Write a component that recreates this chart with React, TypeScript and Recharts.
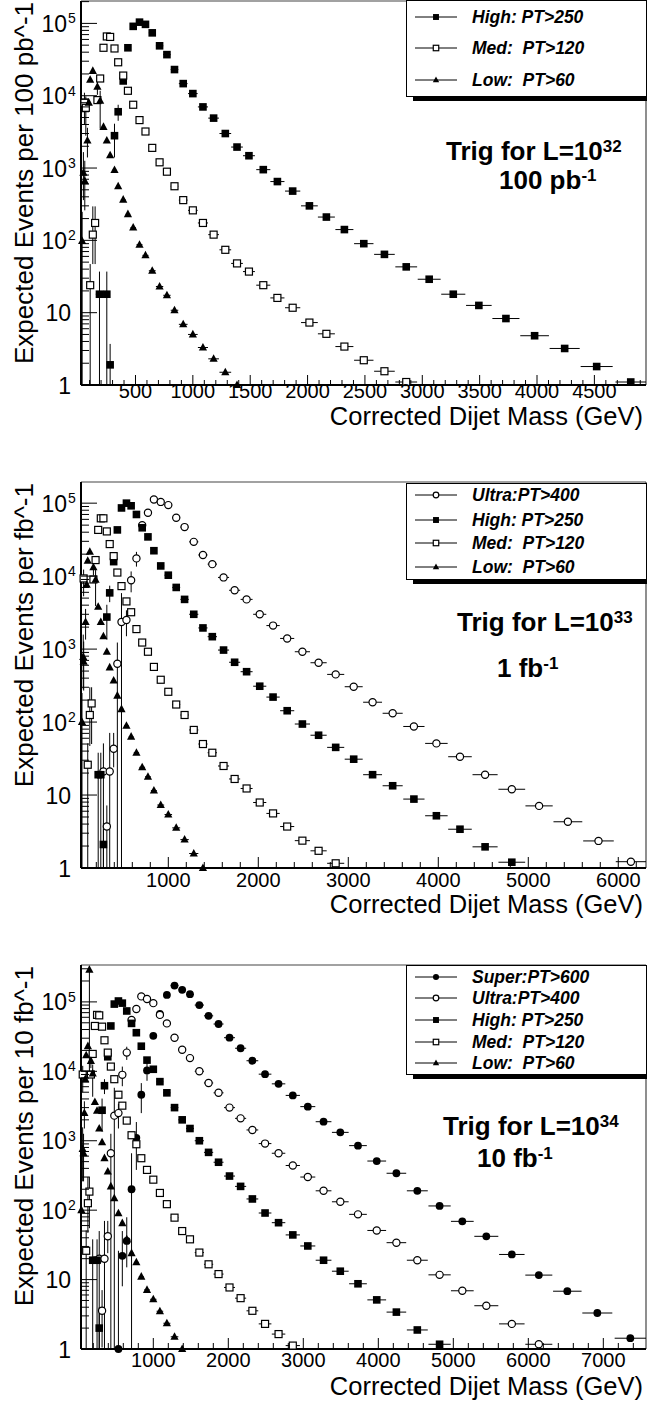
import React from 'react';
import { ScatterChart, Scatter, XAxis, YAxis, ErrorBar, ReferenceLine, Legend } from 'recharts';

const FONT = '"Liberation Sans", Arial, Helvetica, sans-serif';
const W = 647;

// ---------------- Panel 1 : 100 pb^-1 ----------------
const P1_HIGH_M = [186, 250, 279, 317, 349, 393, 434, 480, 535, 587, 646, 710, 774, 840, 916, 1000, 1088, 1181, 1283, 1385, 1489, 1614, 1737, 1870, 2016, 2164, 2321, 2490, 2670, 2860, 3060, 3270, 3493, 3729, 3979, 4241, 4520, 4817];
const P1_HIGH_N = [18, 18, 1.9, 2800, 6000, 16000, 46000, 91000, 104000, 97000, 74000, 49000, 37000, 23000, 14700, 10700, 7000, 4900, 3000, 1950, 1480, 950, 650, 480, 300, 210, 141, 90, 64, 43, 29, 18, 12.6, 8.3, 4.8, 3.2, 1.8, 1.1];
const P1_HIGH_ERR = [[186, 17, 19], [250, 17, 19], [279, 0.9, 1.8], [317, 1400, 1300], [349, 1500, 1500]];

const P1_MED_M = [55, 67, 105, 128, 148, 168, 192, 221, 250, 279, 317, 349, 393, 434, 480, 535, 587, 646, 710, 774, 840, 916, 1000, 1088, 1181, 1283, 1385, 1489, 1614, 1737, 1870, 2016, 2164, 2321, 2490, 2670, 2860];
const P1_MED_N = [8000, 6800, 24, 120, 174, 8700, 17300, 46000, 66000, 65000, 45000, 29000, 19000, 11700, 7500, 4600, 3200, 1900, 1200, 890, 560, 360, 260, 174, 120, 74, 48, 37, 24, 16, 11.7, 7.3, 5.1, 3.4, 2.2, 1.55, 1.1];
const P1_MED_ERR = [[55, 4000, 3000], [67, 4000, 3000], [105, 23, 23], [128, 73, 175], [148, 127, 121]];

const P1_LOW_M = [35, 46, 58, 81, 93, 105, 128, 168, 192, 221, 250, 279, 317, 349, 393, 434, 480, 535, 587, 646, 710, 774, 840, 916, 1000, 1088, 1181, 1283, 1385];
const P1_LOW_N = [98, 860, 660, 2400, 8000, 16600, 22000, 13300, 8500, 3700, 2400, 1500, 940, 560, 365, 230, 150, 87, 62, 38, 23, 17.4, 10.8, 6.9, 5.0, 3.3, 2.3, 1.5, 1.0];
const P1_LOW_ERR = [[35, 97, 150], [46, 500, 800], [58, 400, 600], [81, 1000, 1200], [168, 3000, 3000], [192, 5000, 3200]];

// ---------------- Panel 2 : 1 fb^-1 ----------------
const P2_ULTRA_M = [279, 317, 349, 393, 434, 480, 535, 587, 646, 710, 774, 840, 916, 1000, 1088, 1181, 1283, 1385, 1489, 1614, 1737, 1870, 2016, 2164, 2321, 2490, 2670, 2860, 3060, 3270, 3493, 3729, 3979, 4241, 4520, 4817, 5120, 5440, 5780, 6140];
const P2_ULTRA_N = [21, 3.7, 21, 43, 630, 2350, 2500, 8800, 17500, 50000, 74000, 112000, 104000, 94000, 63000, 47000, 29500, 19500, 14600, 9600, 6400, 4800, 3000, 2100, 1400, 920, 650, 450, 305, 187, 132, 87, 51, 33.5, 19, 12, 7.1, 4.3, 2.35, 1.22];
const P2_ULTRA_ERR = [[279, 20, 30], [317, 2.7, 3.5], [349, 20, 50], [393, 19, 28], [434, 629, 600], [480, 2349, 3500], [535, 1000, 900], [587, 2800, 2800], [646, 4000, 4000]];

const P2_HIGH_M = [221, 250, 279, 317, 349, 393, 434, 480, 535, 587, 646, 710, 774, 840, 916, 1000, 1088, 1181, 1283, 1385, 1489, 1614, 1737, 1870, 2016, 2164, 2321, 2490, 2670, 2860, 3060, 3270, 3493, 3729, 3979, 4241, 4520, 4817];
const P2_HIGH_N = [19, 19, 2.1, 2750, 5900, 15800, 43000, 86000, 100000, 92000, 70000, 46000, 34500, 22300, 13800, 10300, 7000, 4800, 3000, 1950, 1480, 970, 660, 490, 310, 220, 143, 94, 66, 45, 31, 19, 13.4, 8.8, 5.2, 3.4, 1.95, 1.2];
const P2_HIGH_ERR = [[221, 18, 19], [250, 18, 19], [279, 1.1, 2], [317, 1400, 1300], [349, 1500, 1500]];

const P2_MED_M = [59, 105, 128, 148, 168, 192, 221, 250, 279, 317, 349, 393, 434, 480, 535, 587, 646, 710, 774, 840, 916, 1000, 1088, 1181, 1283, 1385, 1489, 1614, 1737, 1870, 2016, 2164, 2321, 2490, 2670, 2860];
const P2_MED_N = [9300, 26, 125, 180, 9000, 16600, 43000, 62000, 62000, 41000, 27500, 18800, 11200, 7300, 4500, 3200, 1880, 1230, 920, 570, 380, 260, 174, 125, 78, 50, 38, 25, 16.6, 12.3, 7.9, 5.6, 3.7, 2.37, 1.72, 1.16];
const P2_MED_ERR = [[59, 4000, 3000], [105, 25, 25], [128, 78, 175], [148, 130, 120]];

const P2_LOW_M = [41, 55, 60, 81, 93, 105, 128, 168, 192, 221, 250, 279, 317, 349, 393, 434, 480, 535, 587, 646, 710, 774, 840, 916, 1000, 1088, 1181, 1283, 1385];
const P2_LOW_N = [100, 780, 670, 2350, 7600, 16200, 21500, 13200, 8900, 3800, 2350, 1500, 920, 560, 370, 230, 150, 89, 63, 38, 24, 17.8, 11.5, 7.3, 5.4, 3.55, 2.45, 1.58, 1.0];
const P2_LOW_ERR = [[41, 99, 150], [55, 500, 800], [60, 400, 600], [81, 1000, 1200], [168, 3000, 3000], [192, 5000, 3200]];

// ---------------- Panel 3 : 10 fb^-1 ----------------
const P3_SUPER_M = [535, 587, 646, 710, 774, 840, 916, 1000, 1088, 1181, 1283, 1385, 1489, 1614, 1737, 1870, 2016, 2164, 2321, 2490, 2670, 2860, 3060, 3270, 3493, 3729, 3979, 4241, 4520, 4817, 5120, 5440, 5780, 6140, 6520, 6920, 7360];
const P3_SUPER_N = [1.0, 22, 36, 200, 1100, 4600, 10300, 32500, 67000, 126000, 172000, 149000, 129000, 90000, 63000, 48000, 30500, 21500, 14200, 9100, 6600, 4500, 3100, 1880, 1320, 850, 510, 340, 190, 115, 69, 42, 23, 11.6, 6.8, 3.3, 1.43];
const P3_SUPER_ERR = [[535, 0, 25], [587, 14, 28], [646, 21, 43], [710, 199, 460], [774, 720, 760], [840, 2100, 2160], [916, 3000, 3000]];

const P3_ULTRA_M = [279, 317, 349, 393, 434, 480, 535, 587, 646, 710, 774, 840, 916, 1000, 1088, 1181, 1283, 1385, 1489, 1614, 1737, 1870, 2016, 2164, 2321, 2490, 2670, 2860, 3060, 3270, 3493, 3729, 3979, 4241, 4520, 4817, 5120, 5440, 5780, 6140];
const P3_ULTRA_N = [20, 3.55, 20, 42, 660, 2300, 2500, 8900, 18600, 55000, 79000, 120000, 110000, 96000, 65000, 49000, 30500, 20400, 15500, 10000, 6800, 4900, 3000, 2100, 1430, 910, 660, 440, 300, 190, 132, 87, 51, 34, 19, 11.7, 6.9, 4.2, 2.3, 1.17];
const P3_ULTRA_ERR = [[279, 19, 30], [317, 2.5, 3.5], [349, 19, 50], [393, 18, 28], [434, 659, 600], [480, 2299, 3500], [535, 1000, 900], [587, 2800, 2800], [646, 4000, 4000]];

const P3_HIGH_M = [192, 250, 279, 317, 349, 393, 434, 480, 535, 587, 646, 710, 774, 840, 916, 1000, 1088, 1181, 1283, 1385, 1489, 1614, 1737, 1870, 2016, 2164, 2321, 2490, 2670, 2860, 3060, 3270, 3493, 3729, 3979, 4241, 4520, 4817];
const P3_HIGH_N = [19, 19, 2.0, 2750, 6200, 16200, 45000, 93000, 103000, 96000, 74000, 49000, 36000, 23000, 14500, 10700, 7100, 4900, 3000, 2000, 1500, 1000, 680, 490, 310, 220, 145, 91, 66, 44, 30.5, 19, 13.2, 8.7, 5.1, 3.4, 1.88, 1.17];
const P3_HIGH_ERR = [[192, 18, 19], [250, 18, 19], [279, 1, 2], [317, 1400, 1300], [349, 1500, 1500]];

const P3_MED_M = [59, 105, 128, 148, 168, 192, 221, 250, 279, 317, 349, 393, 434, 480, 535, 587, 646, 710, 774, 840, 916, 1000, 1088, 1181, 1283, 1385, 1489, 1614, 1737, 1870, 2016, 2164, 2321, 2490, 2670, 2860];
const P3_MED_N = [9000, 26, 126, 185, 9000, 17800, 45000, 65000, 64000, 44000, 28000, 18600, 11700, 7700, 4600, 3200, 1950, 1200, 890, 560, 380, 275, 177, 122, 78, 50, 38, 24.5, 16.6, 12, 7.7, 5.4, 3.55, 2.3, 1.64, 1.12];
const P3_MED_ERR = [[59, 4000, 3000], [105, 25, 25], [128, 79, 175], [148, 130, 120]];

const P3_LOW_M = [41, 58, 70, 81, 93, 105, 128, 148, 168, 192, 221, 250, 279, 317, 349, 393, 434, 480, 535, 587, 646, 710, 774, 840, 916, 1000, 1088, 1181, 1283, 1385];
const P3_LOW_N = [100, 760, 660, 2500, 7700, 17000, 23000, 290000, 14100, 9300, 3600, 2700, 1500, 950, 560, 360, 220, 148, 90, 65, 38, 24, 17.7, 11, 7.1, 5.2, 3.5, 2.35, 1.5, 1.0];
const P3_LOW_ERR = [[41, 99, 150], [58, 500, 800], [70, 400, 600], [81, 1000, 1200], [148, 280000, 40000], [168, 3000, 3000], [192, 5000, 3200]];

// ---------------- axis ticks / labels ----------------
const Y_MAJOR = [1, 10, 100, 1000, 10000, 100000];
const Y_LABELS = ['1', '10', '10^2', '10^3', '10^4', '10^5'];
const Y_MINOR_MULT = [2, 3, 4, 5, 6, 7, 8, 9];

const P1_X_MAJOR = [500, 1000, 1500, 2000, 2500, 3000, 3500, 4000, 4500];
const P1_X_LABELS = ['500', '1000', '1500', '2000', '2500', '3000', '3500', '4000', '4500'];
const P2_X_MAJOR = [1000, 2000, 3000, 4000, 5000, 6000];
const P2_X_LABELS = ['1000', '2000', '3000', '4000', '5000', '6000'];
const P3_X_MAJOR = [1000, 2000, 3000, 4000, 5000, 6000, 7000];
const P3_X_LABELS = ['1000', '2000', '3000', '4000', '5000', '6000', '7000'];

const NAMES = {
  super: 'Super:PT>600',
  ultra: 'Ultra:PT>400',
  high: 'High: PT>250',
  med: 'Med:  PT>120',
  low: 'Low:  PT>60',
};

type Kind = 'fci' | 'oci' | 'fsq' | 'osq' | 'tri';

function drawMarker(kind: Kind, cx: number, cy: number, s: number, key?: string) {
  switch (kind) {
    case 'fsq':
      return <rect key={key} x={cx - 3.8 * s} y={cy - 3.8 * s} width={7.6 * s} height={7.6 * s} fill="#000" />;
    case 'osq':
      return <rect key={key} x={cx - 3.5 * s} y={cy - 3.5 * s} width={7 * s} height={7 * s} fill="#fff" stroke="#000" strokeWidth={1.2} />;
    case 'fci':
      return <circle key={key} cx={cx} cy={cy} r={3.9 * s} fill="#000" />;
    case 'oci':
      return <circle key={key} cx={cx} cy={cy} r={3.6 * s} fill="#fff" stroke="#000" strokeWidth={1.2} />;
    default:
      return (
        <polygon
          key={key}
          points={`${cx},${cy - 4.6 * s} ${cx + 4.1 * s},${cy + 3 * s} ${cx - 4.1 * s},${cy + 3 * s}`}
          fill="#000"
        />
      );
  }
}

type Pt = { x: number; y: number; ex: number; ey: number[] };

function buildSeries(m: number[], n: number[], errs: number[][], dom: number[]): Pt[] {
  return m.map((x, i) => {
    const prev = i > 0 ? x - m[i - 1] : Infinity;
    const next = i < m.length - 1 ? m[i + 1] - x : Infinity;
    let half = Math.min(prev, next) / 2;
    if (!isFinite(half)) half = 0;
    half = Math.max(0, Math.min(half, x - dom[0], dom[1] - x));
    const e = errs.find((r) => r[0] === x);
    return { x, y: n[i], ex: half, ey: e ? [e[1], e[2]] : [0, 0] };
  });
}

type SeriesCfg = { name: string; kind: Kind; data: Pt[] };

type PanelCfg = {
  id: string;
  top: number;
  height: number;
  plotTop: number;
  plotBottom: number;
  xDomain: number[];
  yDomain: number[];
  xMajor: number[];
  xLabels: string[];
  xMinorStep: number;
  xMajLen: number;
  xMinLen: number;
  xLabelDy: number;
  xTitleDy: number;
  yTitle: string;
  series: SeriesCfg[];
  legendTop: number;
  legendH: number;
  legendRows: number[];
  ann1: string;
  ann1Sup: string;
  ann1X: number;
  ann1Y: number;
  ann2: string;
  ann2Sup: string;
  ann2X: number;
  ann2Y: number;
};

const P1_XD = [25, 4950];
const P2_XD = [30, 6308];
const P3_XD = [36, 7569];

const PANELS: PanelCfg[] = [
  {
    id: 'p1',
    top: 0,
    height: 440,
    plotTop: 1,
    plotBottom: 385,
    xDomain: P1_XD,
    yDomain: [1, 2.04e5],
    xMajor: P1_X_MAJOR,
    xLabels: P1_X_LABELS,
    xMinorStep: 100,
    xMajLen: 10,
    xMinLen: 5,
    xLabelDy: 13,
    xTitleDy: 40,
    yTitle: 'Expected Events per 100 pb^-1',
    series: [
      { name: NAMES.high, kind: 'fsq', data: buildSeries(P1_HIGH_M, P1_HIGH_N, P1_HIGH_ERR, P1_XD) },
      { name: NAMES.med, kind: 'osq', data: buildSeries(P1_MED_M, P1_MED_N, P1_MED_ERR, P1_XD) },
      { name: NAMES.low, kind: 'tri', data: buildSeries(P1_LOW_M, P1_LOW_N, P1_LOW_ERR, P1_XD) },
    ],
    legendTop: 0,
    legendH: 96,
    legendRows: [17, 48, 80],
    ann1: 'Trig for L=10',
    ann1Sup: '32',
    ann1X: 446,
    ann1Y: 160,
    ann2: '100 pb',
    ann2Sup: '-1',
    ann2X: 499,
    ann2Y: 189,
  },
  {
    id: 'p2',
    top: 440,
    height: 480,
    plotTop: 42,
    plotBottom: 428,
    xDomain: P2_XD,
    yDomain: [1, 1.95e5],
    xMajor: P2_X_MAJOR,
    xLabels: P2_X_LABELS,
    xMinorStep: 200,
    xMajLen: 11,
    xMinLen: 6,
    xLabelDy: 19,
    xTitleDy: 45,
    yTitle: 'Expected Events per fb^-1',
    series: [
      { name: NAMES.ultra, kind: 'oci', data: buildSeries(P2_ULTRA_M, P2_ULTRA_N, P2_ULTRA_ERR, P2_XD) },
      { name: NAMES.high, kind: 'fsq', data: buildSeries(P2_HIGH_M, P2_HIGH_N, P2_HIGH_ERR, P2_XD) },
      { name: NAMES.med, kind: 'osq', data: buildSeries(P2_MED_M, P2_MED_N, P2_MED_ERR, P2_XD) },
      { name: NAMES.low, kind: 'tri', data: buildSeries(P2_LOW_M, P2_LOW_N, P2_LOW_ERR, P2_XD) },
    ],
    legendTop: 43,
    legendH: 96,
    legendRows: [12, 37, 60, 84],
    ann1: 'Trig for L=10',
    ann1Sup: '33',
    ann1X: 457,
    ann1Y: 191,
    ann2: '1 fb',
    ann2Sup: '-1',
    ann2X: 497,
    ann2Y: 237,
  },
  {
    id: 'p3',
    top: 920,
    height: 484,
    plotTop: 45,
    plotBottom: 429,
    xDomain: P3_XD,
    yDomain: [1, 3.4e5],
    xMajor: P3_X_MAJOR,
    xLabels: P3_X_LABELS,
    xMinorStep: 200,
    xMajLen: 11,
    xMinLen: 6,
    xLabelDy: 18,
    xTitleDy: 46,
    yTitle: 'Expected Events per 10 fb^-1',
    series: [
      { name: NAMES.super, kind: 'fci', data: buildSeries(P3_SUPER_M, P3_SUPER_N, P3_SUPER_ERR, P3_XD) },
      { name: NAMES.ultra, kind: 'oci', data: buildSeries(P3_ULTRA_M, P3_ULTRA_N, P3_ULTRA_ERR, P3_XD) },
      { name: NAMES.high, kind: 'fsq', data: buildSeries(P3_HIGH_M, P3_HIGH_N, P3_HIGH_ERR, P3_XD) },
      { name: NAMES.med, kind: 'osq', data: buildSeries(P3_MED_M, P3_MED_N, P3_MED_ERR, P3_XD) },
      { name: NAMES.low, kind: 'tri', data: buildSeries(P3_LOW_M, P3_LOW_N, P3_LOW_ERR, P3_XD) },
    ],
    legendTop: 45,
    legendH: 109,
    legendRows: [12, 33, 55, 77, 98],
    ann1: 'Trig for L=10',
    ann1Sup: '34',
    ann1X: 443,
    ann1Y: 215,
    ann2: '10 fb',
    ann2Sup: '-1',
    ann2X: 477,
    ann2Y: 247,
  },
];

function xTicksFor(p: PanelCfg): number[] {
  const t: number[] = [...p.xMajor];
  for (let v = p.xMinorStep; v < p.xDomain[1]; v += p.xMinorStep) {
    if (v > p.xDomain[0] && p.xMajor.indexOf(v) < 0) t.push(v);
  }
  return t.sort((a, b) => a - b);
}

function yTicksFor(p: PanelCfg): number[] {
  const t: number[] = [];
  Y_MAJOR.forEach((d) => {
    if (d <= p.yDomain[1]) t.push(d);
    Y_MINOR_MULT.forEach((k) => {
      const v = k * d;
      if (v <= p.yDomain[1]) t.push(v);
    });
  });
  return t.sort((a, b) => a - b);
}

const makeXTick = (p: PanelCfg) => (props: any) => {
  const { x, y, payload } = props;
  const idx = p.xMajor.indexOf(payload.value);
  if (idx >= 0) {
    return (
      <g>
        <line x1={x} x2={x} y1={y} y2={y - p.xMajLen} stroke="#000" strokeWidth={1} />
        <text x={x} y={y + p.xLabelDy} textAnchor="middle" fontSize={20} fontFamily={FONT} fill="#000">
          {p.xLabels[idx]}
        </text>
      </g>
    );
  }
  return <line x1={x} x2={x} y1={y} y2={y - p.xMinLen} stroke="#000" strokeWidth={1} />;
};

const makeYTick = () => (props: any) => {
  const { x, y, payload } = props;
  const idx = Y_MAJOR.indexOf(payload.value);
  if (idx < 0) {
    return <line x1={x} x2={x + 8} y1={y} y2={y} stroke="#000" strokeWidth={1} />;
  }
  const parts = Y_LABELS[idx].split('^');
  return (
    <g>
      <line x1={x} x2={x + 16} y1={y} y2={y} stroke="#000" strokeWidth={1} />
      {parts.length > 1 ? (
        <>
          <text x={67} y={y + 8.5} textAnchor="end" fontSize={23} fontFamily={FONT} fill="#000">
            {parts[0]}
          </text>
          <text x={68} y={y} textAnchor="start" fontSize={14} fontFamily={FONT} fill="#000">
            {parts[1]}
          </text>
        </>
      ) : (
        <text x={71} y={y + 8.5} textAnchor="end" fontSize={23} fontFamily={FONT} fill="#000">
          {parts[0]}
        </text>
      )}
    </g>
  );
};

function LegendBox({ p }: { p: PanelCfg }) {
  return (
    <svg width={260} height={p.legendH + 8} style={{ display: 'block', overflow: 'visible' }}>
      <rect x={7} y={5} width={260} height={p.legendH} fill="#000" />
      <rect x={0.5} y={0.5} width={240} height={p.legendH} fill="#fff" stroke="#000" strokeWidth={1} />
      {p.series.map((s, i) => {
        const cy = p.legendRows[i];
        return (
          <g key={s.name}>
            <line x1={9} x2={51} y1={cy} y2={cy} stroke="#000" strokeWidth={1} />
            {drawMarker(s.kind, 30, cy, 0.78)}
            <text
              x={66}
              y={cy + 6}
              fontSize={17.5}
              fontFamily={FONT}
              fontWeight="bold"
              fontStyle="italic"
              fill="#000"
              style={{ whiteSpace: 'pre' }}
            >
              {s.name}
            </text>
          </g>
        );
      })}
    </svg>
  );
}

function Panel({ p }: { p: PanelCfg }) {
  const xTicks = xTicksFor(p);
  const yTicks = yTicksFor(p);
  return (
    <div style={{ position: 'absolute', left: 0, top: p.top, width: W, height: p.height }}>
      <ScatterChart width={W} height={p.height} margin={{ top: p.plotTop, right: 1, bottom: 0, left: 0 }}>
        <XAxis
          type="number"
          dataKey="x"
          domain={p.xDomain}
          ticks={xTicks}
          interval={0}
          tickSize={0}
          tickMargin={0}
          tickLine={false}
          tick={makeXTick(p)}
          axisLine={{ stroke: '#000', strokeWidth: 2 }}
          height={p.height - p.plotBottom}
          label={() => (
            <text x={643} y={p.plotBottom + p.xTitleDy} textAnchor="end" fontSize={25.5} fontFamily={FONT} fill="#000">
              Corrected Dijet Mass (GeV)
            </text>
          )}
        />
        <YAxis
          type="number"
          dataKey="y"
          scale="log"
          domain={p.yDomain}
          ticks={yTicks}
          interval={0}
          tickSize={0}
          tickMargin={0}
          tickLine={false}
          tick={makeYTick()}
          width={81}
          axisLine={{ stroke: '#000', strokeWidth: 2 }}
          label={() => (
            <text
              transform={`translate(33, ${p.plotTop + 1}) rotate(-90)`}
              textAnchor="end"
              fontSize={26}
              fontFamily={FONT}
              fill="#000"
            >
              {p.yTitle}
            </text>
          )}
        />
        <ReferenceLine y={p.yDomain[1]} stroke="#444" strokeWidth={1.2} />
        <ReferenceLine x={p.xDomain[1]} stroke="#444" strokeWidth={1.2} />
        {p.series.map((s) => (
          <Scatter
            key={s.name}
            name={s.name}
            data={s.data}
            isAnimationActive={false}
            shape={(props: any) => drawMarker(s.kind, props.cx, props.cy, 1)}
          >
            <ErrorBar dataKey="ey" direction="y" width={0} stroke="#000" strokeWidth={1} isAnimationActive={false} />
            <ErrorBar dataKey="ex" direction="x" width={0} stroke="#000" strokeWidth={1} isAnimationActive={false} />
          </Scatter>
        ))}
        <Legend
          layout="vertical"
          align="center"
          verticalAlign="middle"
          wrapperStyle={{ position: 'absolute', left: 406, top: p.legendTop, width: 260, height: p.legendH + 8 }}
          content={() => <LegendBox p={p} />}
        />
      </ScatterChart>
      <svg
        width={W}
        height={p.height}
        style={{ position: 'absolute', left: 0, top: 0, pointerEvents: 'none' }}
      >
        <text x={p.ann1X} y={p.ann1Y} fontSize={26} fontWeight="bold" fontFamily={FONT} fill="#000">
          {p.ann1}
          <tspan dy={-8} fontSize={17}>
            {p.ann1Sup}
          </tspan>
        </text>
        <text x={p.ann2X} y={p.ann2Y} fontSize={26} fontWeight="bold" fontFamily={FONT} fill="#000">
          {p.ann2}
          <tspan dy={-8} fontSize={17}>
            {p.ann2Sup}
          </tspan>
        </text>
      </svg>
    </div>
  );
}

export default function App() {
  return (
    <div
      style={{
        position: 'absolute',
        left: 0,
        top: 0,
        width: W,
        height: 1404,
        background: '#fff',
        overflow: 'hidden',
        fontFamily: FONT,
      }}
    >
      {PANELS.map((p) => (
        <Panel key={p.id} p={p} />
      ))}
    </div>
  );
}
